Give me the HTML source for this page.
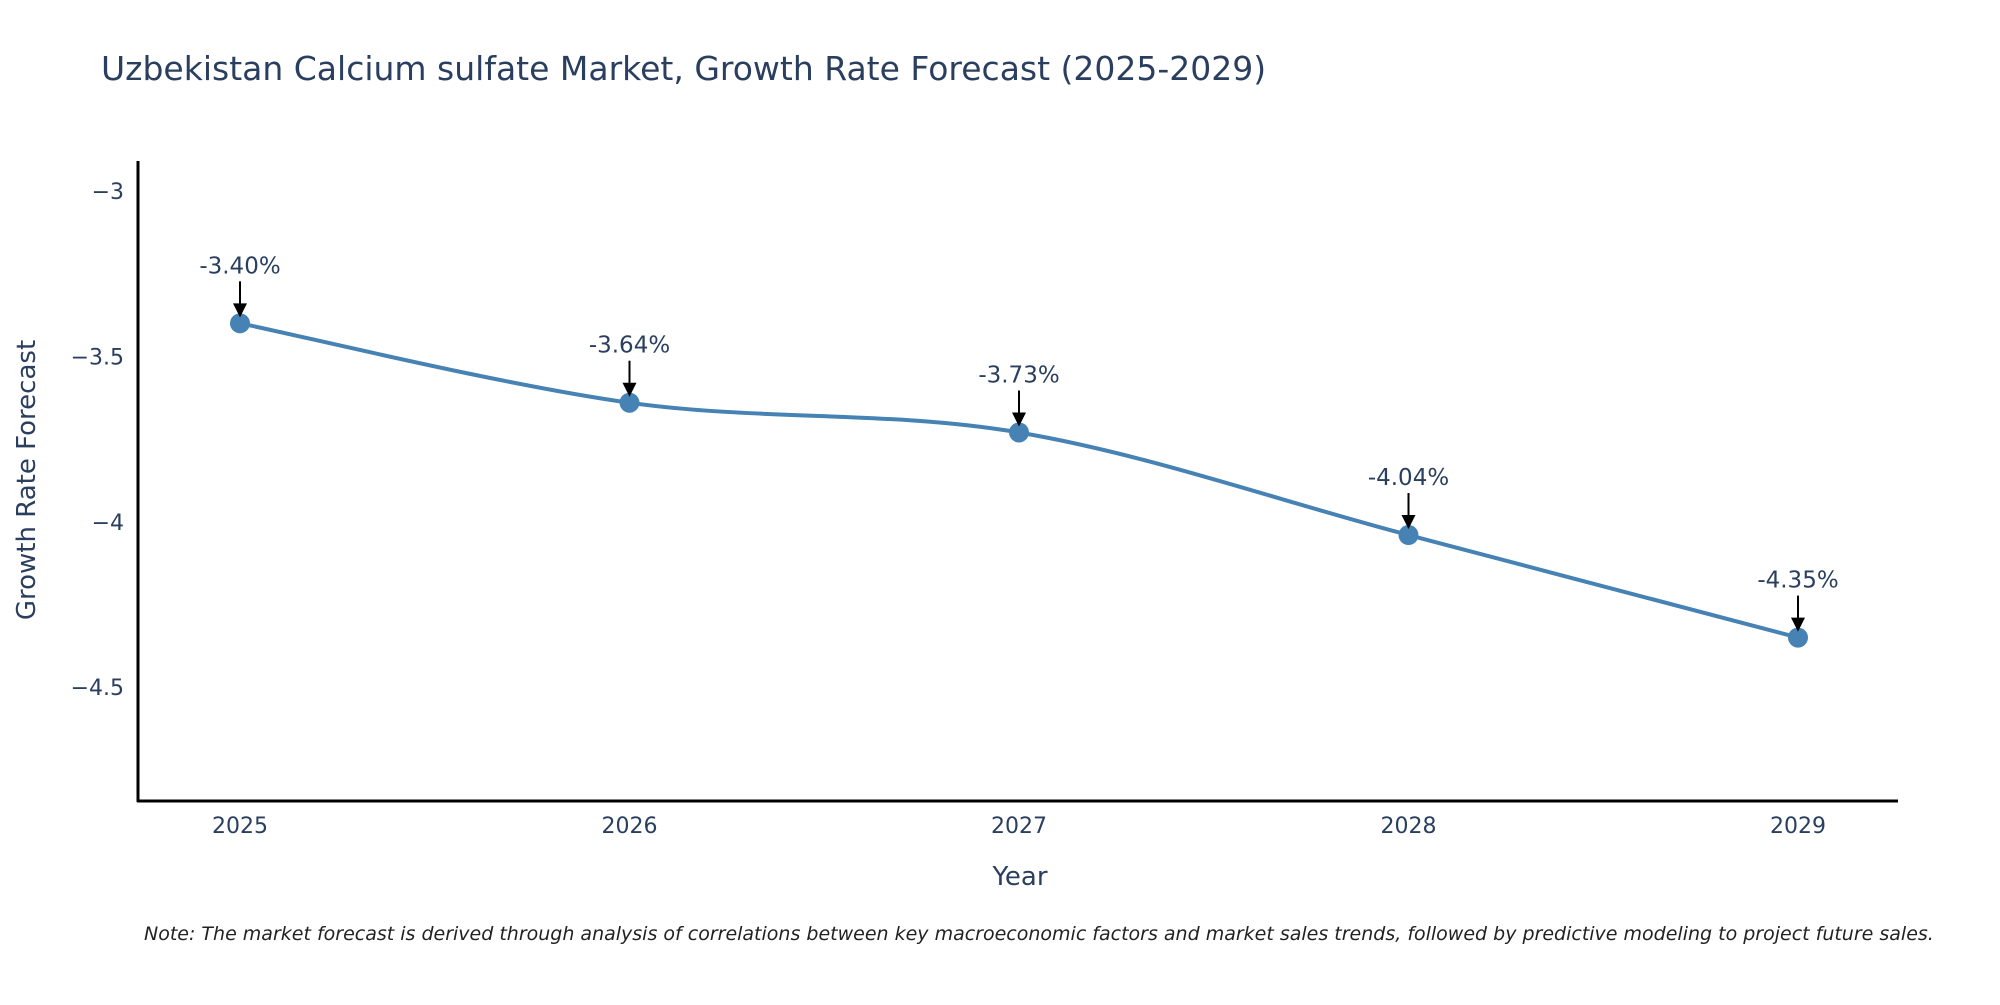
<!DOCTYPE html>
<html><head><meta charset="utf-8"><style>
body{margin:0;background:#fff;}
svg text{font-family:"DejaVu Sans","Liberation Sans",sans-serif;fill:#2a3f5f;}
</style></head><body>
<svg width="2000" height="1000" viewBox="0 0 2000 1000">
<text x="101" y="80" font-size="33">Uzbekistan Calcium sulfate Market, Growth Rate Forecast (2025-2029)</text>
<g id="yticks"></g>
<g id="xticks"></g>
<line x1="138" y1="161" x2="138" y2="802" stroke="#000" stroke-width="3"/>
<line x1="137" y1="801" x2="1898" y2="801" stroke="#000" stroke-width="3"/>
<path id="line" fill="none" stroke="#4682b4" stroke-width="4"/>
<g id="marks"></g>
<text x="1020" y="885" font-size="26" text-anchor="middle">Year</text>
<text transform="translate(35,480) rotate(-90)" font-size="26" text-anchor="middle">Growth Rate Forecast</text>
<text x="144" y="940" font-size="19" font-style="italic" style="fill:#222">Note: The market forecast is derived through analysis of correlations between key macroeconomic factors and market sales trends, followed by predictive modeling to project future sales.</text>
</svg>
<script>
const years=[2025,2026,2027,2028,2029];
const values=[-3.40,-3.64,-3.73,-4.04,-4.35];
const labels=["-3.40%","-3.64%","-3.73%","-4.04%","-4.35%"];
const yTicks=[-3,-3.5,-4,-4.5];
const yTickLabels=["\u22123","\u22123.5","\u22124","\u22124.5"];
const NS="http://www.w3.org/2000/svg";
const X=v=>240+(v-2025)*(1798-240)/4;
const Y=v=>191+(-3-v)*330.8;
function mk(t,a,p){const e=document.createElementNS(NS,t);for(const k in a)e.setAttribute(k,a[k]);(p||document.querySelector('svg')).appendChild(e);return e;}
const yg=document.getElementById('yticks'),xg=document.getElementById('xticks'),mg=document.getElementById('marks');
yTicks.forEach((t,i)=>{const e=mk('text',{x:124,y:Y(t)+8,'font-size':22,'text-anchor':'end'},yg);e.textContent=yTickLabels[i];

});
years.forEach(t=>{const e=mk('text',{x:X(t),y:833,'font-size':22,'text-anchor':'middle'},xg);e.textContent=t;

});
const pts=years.map((y,i)=>[X(y),Y(values[i])]);
let d='M'+pts[0][0]+','+pts[0][1];const s=0.5/3;
for(let i=0;i<pts.length-1;i++){const p0=pts[Math.max(0,i-1)],p1=pts[i],p2=pts[i+1],p3=pts[Math.min(pts.length-1,i+2)];
d+=` C${p1[0]+(p2[0]-p0[0])*s},${p1[1]+(p2[1]-p0[1])*s} ${p2[0]-(p3[0]-p1[0])*s},${p2[1]-(p3[1]-p1[1])*s} ${p2[0]},${p2[1]}`;}
document.getElementById('line').setAttribute('d',d);
pts.forEach((p,i)=>{const c=mk('circle',{cx:p[0],cy:p[1],r:10,fill:'#4682b4'},mg);


const l=mk('line',{x1:p[0],y1:p[1]-42,x2:p[0],y2:p[1]-18,stroke:'#000','stroke-width':2},mg);


const h=mk('polygon',{points:`${p[0]-7},${p[1]-20} ${p[0]+7},${p[1]-20} ${p[0]},${p[1]-6}`,fill:'#000'},mg);


const t=mk('text',{x:p[0],y:p[1]-50,'font-size':23,'text-anchor':'middle'},mg);t.textContent=labels[i];

});
</script>
</body></html>
